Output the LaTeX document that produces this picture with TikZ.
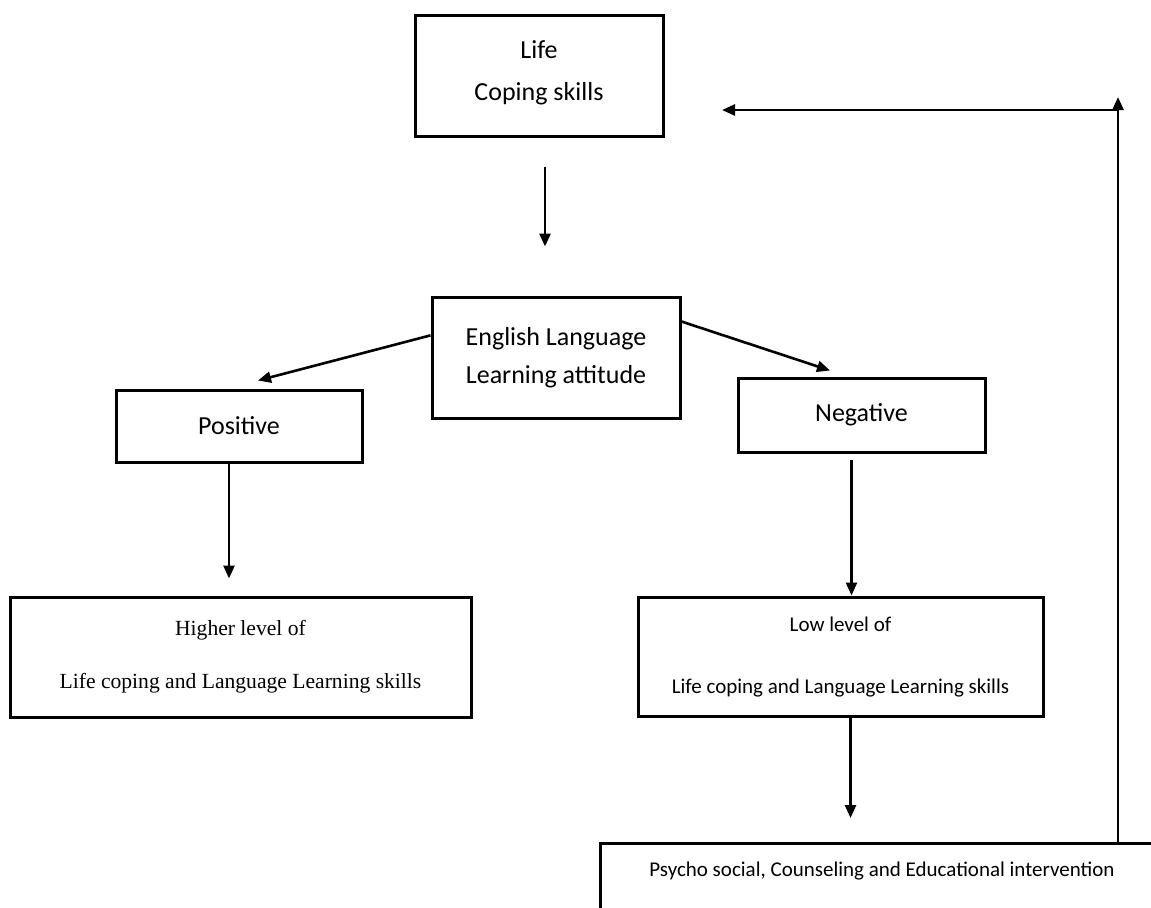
\documentclass[tikz,border=0pt]{standalone}
\usepackage{fontspec}
\setmainfont{Carlito}
\newfontfamily\serifpart{Liberation Serif}
\usetikzlibrary{arrows.meta,positioning}

\begin{document}
\begin{tikzpicture}[x=0.5pt,y=-0.5pt,>={Triangle[length=6.5pt,width=5.5pt]}]

  \tikzstyle{box}=[rectangle,draw=black,line width=1.5pt,inner sep=0pt,
                   align=center,font=\fontsize{13}{21}\selectfont]
  \tikzstyle{level box}=[box,font=\fontsize{10.5}{31}\selectfont]
  \tikzstyle{link}=[->,line width=1.3pt]

  \useasboundingbox (0,0) rectangle (1151,907);
  \clip (0,0) rectangle (1151,907);

  %boxes
  \node [box,minimum width=124pt,minimum height=60.5pt,text depth=5pt] (life) at (539,75.5)
        {Life\\Coping skills};
  \node [box,minimum width=124pt,minimum height=60.5pt,
         font=\fontsize{13}{19}\selectfont] (attitude) at (556,357.5)
        {English Language\\Learning attitude};
  \node [box,minimum width=123pt,minimum height=36pt] (pos) at (239,426) {Positive};
  \node [box,minimum width=123.5pt,minimum height=37pt] (neg) at (861.5,415) {Negative};
  \node [level box,minimum width=230.5pt,minimum height=60pt,
         font=\serifpart\fontsize{10.8}{26.5}\selectfont] (high) at (240.5,657)
        {Higher level of\\Life coping and Language Learning skills};
  \node [level box,minimum width=202.5pt,minimum height=59.5pt] (low) at (840.5,656.5)
        {Low level of\\Life coping and Language Learning skills};
  \node [level box,minimum width=282pt,text height=16.5pt,text depth=20pt,
         anchor=north] (psycho) at (882,842)
        {Psycho social, Counseling and Educational intervention};

  %arrows
  \draw [link,shorten <=14.5pt,shorten >=24.5pt] ([xshift=3pt]life.south)
        -- ([xshift=3pt]life.south |- attitude.north);
  \draw [link] (attitude.170) -- ([xshift=9.5pt,yshift=4pt]pos.north);
  \draw [link] (attitude.16) -- ([xshift=-15.75pt,yshift=3pt]neg.north);
  \draw [link,shorten >=8.5pt] ([xshift=-5pt]pos.south)
        -- ([xshift=-5pt]pos.south |- high.north);
  \draw [link,shorten <=3pt] ([xshift=-5pt]neg.south)
        -- ([xshift=-5pt]neg.south |- low.north);
  \draw [link,shorten >=12pt] ([xshift=5pt]low.south)
        -- ([xshift=5pt]low.south |- psycho.north);

  %feedback
  \coordinate (top) at (1118,97);
  \coordinate (turn) at (1118,110);
  \coordinate (back) at (722,110);
  \draw [link] (psycho.north -| top) -- (top);
  \draw [link] (turn) -- (back);

\end{tikzpicture}
\end{document}
